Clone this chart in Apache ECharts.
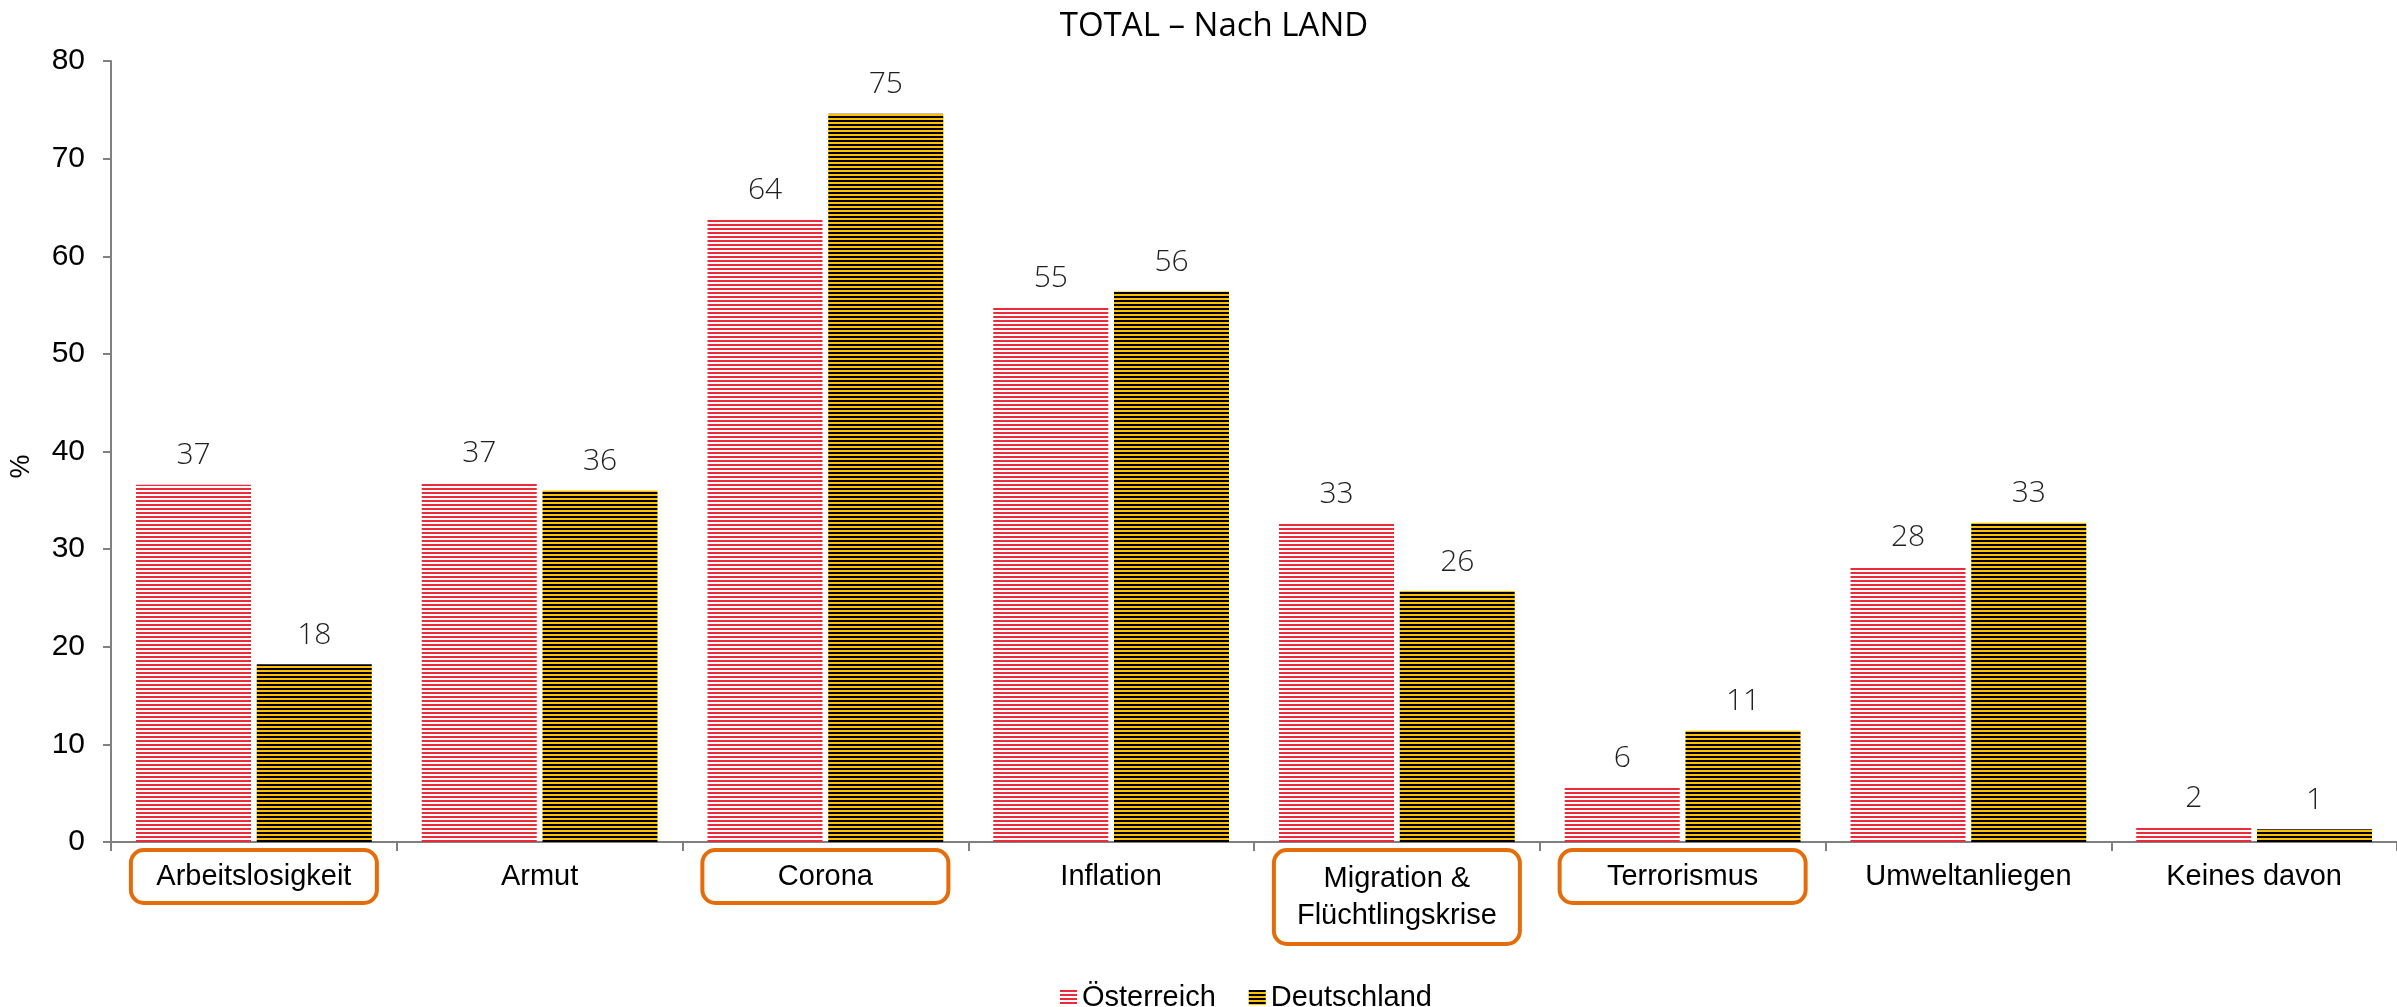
<!DOCTYPE html>
<html>
<head>
<meta charset="utf-8">
<script src="https://cdn.jsdelivr.net/npm/echarts@6/dist/echarts.min.js"></script>
<style>
html,body{margin:0;padding:0;background:#fff;}
#chart{width:2397px;height:1007px;}
</style>
</head>
<body>
<div id="chart"></div>
<script>
const categories = ['Arbeitslosigkeit', 'Armut', 'Corona', 'Inflation', 'Migration &\nFlüchtlingskrise', 'Terrorismus', 'Umweltanliegen', 'Keines davon'];
const highlighted = ['Arbeitslosigkeit', 'Corona', 'Migration &\nFlüchtlingskrise', 'Terrorismus'];
const seriesNames = ['Österreich', 'Deutschland'];
const oesterreich = [36.6, 36.8, 63.8, 54.8, 32.6, 5.6, 28.2, 1.5];
const deutschland = [18.2, 36.0, 74.6, 56.4, 25.7, 11.4, 32.7, 1.3];
const yTicks = [0, 10, 20, 30, 40, 50, 60, 70, 80];

function stripe(c1, c2) {
  const cv = document.createElement('canvas');
  cv.width = 4; cv.height = 4;
  const ctx = cv.getContext('2d');
  ctx.fillStyle = c2; ctx.fillRect(0, 0, 4, 4);
  ctx.fillStyle = c1; ctx.fillRect(0, 0, 4, 2);
  return cv;
}
const redPattern = { image: stripe('#EC2A3A', '#FFFFFF'), repeat: 'repeat' };
const yellowPattern = { image: stripe('#000000', '#FFC000'), repeat: 'repeat' };

const chart = echarts.init(document.getElementById('chart'), null, { renderer: 'canvas' });

const xData = categories.map(c => {
  const boxed = highlighted.indexOf(c) >= 0;
  const multi = c.indexOf('\n') >= 0;
  return {
    value: c,
    textStyle: {
      borderColor: boxed ? '#E46C0A' : 'rgba(0,0,0,0)',
      borderWidth: 4,
      borderRadius: 13,
      padding: multi ? [10, 16, 10, 16] : [8, 16, 8, 16],
      width: boxed ? 214 : undefined
    }
  };
});

const labelStyle = {
  show: true,
  position: 'top',
  distance: 14,
  fontFamily: 'Open Sans',
  fontWeight: 300,
  fontSize: 30,
  color: '#1f1f1f',
  formatter: p => Math.round(p.value)
};

chart.setOption({
  animation: false,
  backgroundColor: '#ffffff',
  title: {
    text: 'TOTAL – Nach LAND',
    left: 1209,
    textAlign: 'center',
    top: 5,
    textStyle: { fontFamily: 'Open Sans', fontWeight: 400, fontSize: 33, color: '#000' }
  },
  legend: {
    data: seriesNames,
    left: 1055,
    top: 978,
    icon: 'rect',
    itemWidth: 17,
    itemHeight: 15,
    itemGap: 33,
    textStyle: { fontFamily: 'Liberation Sans', fontSize: 29, color: '#000' }
  },
  grid: { left: 104, top: 61, width: 2305, height: 781, containLabel: false },
  xAxis: {
    type: 'category',
    data: xData,
    axisLine: { lineStyle: { color: '#808080', width: 2 } },
    axisTick: { show: true, length: 9, lineStyle: { color: '#808080', width: 2 } },
    axisLabel: {
      interval: 0,
      margin: 8,
      fontFamily: 'Liberation Sans',
      fontSize: 29,
      lineHeight: 37,
      color: '#000',
      verticalAlign: 'top'
    }
  },
  yAxis: {
    type: 'value',
    min: 0,
    max: 80,
    interval: 10,
    name: '%',
    nameLocation: 'middle',
    nameGap: 76,
    nameRotate: 90,
    nameTextStyle: { fontFamily: 'Liberation Sans', fontSize: 27, color: '#000', padding: [0, 30, 0, 0] },
    splitLine: { show: false },
    axisLine: { show: true, lineStyle: { color: '#808080', width: 2 } },
    axisTick: { show: true, length: 8, lineStyle: { color: '#808080', width: 2 } },
    axisLabel: {
      margin: 26,
      fontFamily: 'Liberation Sans',
      fontSize: 30,
      color: '#000',
      formatter: v => (yTicks.indexOf(v) >= 0 ? String(v) : '')
    }
  },
  series: [
    {
      name: seriesNames[0],
      type: 'bar',
      data: oesterreich,
      barWidth: 115,
      barGap: '5%',
      itemStyle: { color: redPattern },
      label: labelStyle
    },
    {
      name: seriesNames[1],
      type: 'bar',
      data: deutschland,
      barWidth: 115,
      barGap: '5%',
      itemStyle: { color: yellowPattern },
      label: labelStyle
    }
  ]
});
</script>
</body>
</html>
